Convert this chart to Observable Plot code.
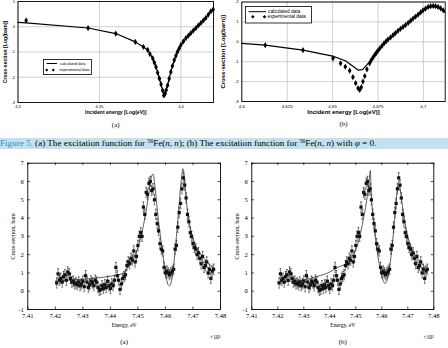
<!DOCTYPE html>
<html>
<head>
<meta charset="utf-8">
<script src="https://cdn.jsdelivr.net/npm/d3@7"></script>
<script src="https://cdn.jsdelivr.net/npm/@observablehq/plot@0.6"></script>
<style>
  html, body { margin: 0; padding: 0; background: #fff; }
  #fig { position: relative; width: 448px; height: 348px; overflow: hidden; background: #fff; }
  .panel { position: absolute; }
  .panel svg { overflow: visible; }
  .legend { position: absolute; overflow: visible; }
  .legend text { font-family: "Liberation Sans", Arial, sans-serif; fill: #000; }
  #caption { position: absolute; left: 0; top: 138px; width: 448px; height: 11px; background: #c3e2ee;
             font: 9.1px "Liberation Serif", "Times New Roman", serif; line-height: 11px; white-space: nowrap; }
  #caption .lead { color: #2a8ccf; }
  #caption sup { font-size: 5.8px; vertical-align: 3px; line-height: 0; }
</style>
</head>
<body>
<div id="fig">
  <div class="panel" id="pA" style="left:0;top:0"></div>
  <div class="panel" id="pB" style="left:224px;top:0"></div>
  <div class="panel" id="pC" style="left:0;top:160px"></div>
  <div class="panel" id="pD" style="left:224px;top:160px"></div>

  <svg class="legend" style="left:43px;top:59px" width="49" height="16">
    <rect x="0.5" y="0.5" width="48" height="15" fill="#fff" stroke="#000" stroke-width="0.8"/>
    <line x1="3.5" x2="14" y1="4.5" y2="4.5" stroke="#000" stroke-width="1"/>
    <text x="17" y="5.9" font-size="3.8">calculated data</text>
    <path d="M3.7,9.4L5.3,11L3.7,12.6L2.1,11Z M10.3,9.4L11.9,11L10.3,12.6L8.7,11Z" fill="#000"/>
    <text x="16.5" y="12.3" font-size="3.8">experimental data</text>
  </svg>

  <svg class="legend" style="left:244.5px;top:6px" width="67" height="17">
    <rect x="0.5" y="0.5" width="66" height="16.5" fill="#fff" stroke="#000" stroke-width="0.8"/>
    <line x1="3.5" x2="21" y1="5.7" y2="5.7" stroke="#000" stroke-width="1"/>
    <text x="23" y="7.3" font-size="4.8">calculated data</text>
    <path d="M7.8,8.9L9.6,10.7L7.8,12.5L6,10.7Z M19.5,8.9L21.3,10.7L19.5,12.5L17.7,10.7Z" fill="#000"/>
    <text x="22.5" y="12.4" font-size="4.8">experimental data</text>
  </svg>

  <div id="caption"><span class="lead">Figure 5.</span> (a) The excitation function for <sup>56</sup>Fe(<i>n</i>, <i>n</i>); (b) The excitation function for <sup>56</sup>Fe(<i>n</i>, <i>n</i>) with <i>φ</i> = 0.</div>
</div>

<script>
// ---- (a) top: excitation function, log scale ----
const aExpE  = [4.305, 4.343, 4.360, 4.372, 4.377, 4.3796, 4.381, 4.3827, 4.3837, 4.3847, 4.3857, 4.3868, 4.3878, 4.3888, 4.3895, 4.3903, 4.391, 4.3918, 4.3928, 4.3938, 4.3948, 4.3959, 4.3969, 4.3979, 4.399, 4.400, 4.4015, 4.4031, 4.4046, 4.4061, 4.4076, 4.4092, 4.4107, 4.4123, 4.4138, 4.4153, 4.4168, 4.4184, 4.4198];
const aExpS  = [0.25, -0.05, -0.27, -0.6, -0.8, -0.92, -1.08, -1.25, -1.42, -1.59, -1.82, -2.05, -2.28, -2.52, -2.72, -2.65, -2.5, -2.32, -2.05, -1.79, -1.55, -1.32, -1.15, -0.99, -0.85, -0.72, -0.58, -0.45, -0.35, -0.25, -0.15, -0.05, 0.05, 0.15, 0.25, 0.35, 0.48, 0.61, 0.68];
const aCalcE = [4.3, 4.305, 4.343, 4.36, 4.372, 4.377, 4.3796, 4.3827, 4.3847, 4.3868, 4.3888, 4.3897, 4.3903, 4.3918, 4.3938, 4.3959, 4.3979, 4.400, 4.4031, 4.4061, 4.4092, 4.4123, 4.4153, 4.4184, 4.42];
const aCalcS = [0.17, 0.15, -0.05, -0.27, -0.6, -0.8, -0.92, -1.25, -1.59, -2.05, -2.52, -2.7, -2.6, -2.32, -1.79, -1.32, -0.99, -0.72, -0.45, -0.25, -0.05, 0.15, 0.35, 0.61, 0.7];
const aTicksX = [4.3, 4.35, 4.4];
const aTicksY = [-3, -2, -1, 0, 1];

// ---- (b) top: excitation function with phi = 0 ----
const bExpE  = [4.6129, 4.6337, 4.6502, 4.6544, 4.657, 4.6594, 4.6612, 4.6627, 4.664, 4.6649, 4.6658, 4.6667, 4.6677, 4.6689, 4.6704, 4.6713, 4.6723, 4.6732, 4.6741, 4.675, 4.676, 4.6772, 4.6783, 4.6794, 4.6805, 4.6819, 4.6833, 4.6846, 4.686, 4.6874, 4.6888, 4.6902, 4.6916, 4.693, 4.6943, 4.6957, 4.6971, 4.6985, 4.6998, 4.7012, 4.7026, 4.704, 4.7054, 4.7067, 4.7081, 4.7095, 4.7109];
const bExpS  = [-0.17, -0.42, -0.83, -1.08, -1.25, -1.45, -1.78, -2.08, -2.33, -2.42, -2.28, -2.0, -1.72, -1.38, -1.08, -0.92, -0.78, -0.66, -0.55, -0.44, -0.33, -0.2, -0.08, 0.02, 0.12, 0.22, 0.33, 0.44, 0.55, 0.65, 0.75, 0.85, 0.95, 1.06, 1.17, 1.27, 1.37, 1.48, 1.58, 1.67, 1.75, 1.79, 1.8, 1.79, 1.75, 1.68, 1.58];
const bCalcE = [4.6, 4.6129, 4.6337, 4.65, 4.657, 4.661, 4.664, 4.6665, 4.669, 4.6723, 4.6741, 4.676, 4.6783, 4.6805, 4.6833, 4.686, 4.6888, 4.6916, 4.6943, 4.6971, 4.6998, 4.7026, 4.7054, 4.7081, 4.7109, 4.712];
const bCalcS = [-0.08, -0.17, -0.42, -0.72, -0.95, -1.22, -1.42, -1.4, -1.15, -0.8, -0.57, -0.35, -0.1, 0.1, 0.32, 0.55, 0.75, 0.95, 1.17, 1.37, 1.57, 1.73, 1.78, 1.73, 1.57, 1.48];
const bTicksX = [4.6, 4.625, 4.65, 4.675, 4.7];
const bTicksY = [-3, -2, -1, 0, 1, 2];

// ---- bottom: measured cross-section (×10³ eV) with error bars ----
const mE = [7.4205, 7.421, 7.4215, 7.422, 7.4225, 7.423, 7.4235, 7.424, 7.4245, 7.425, 7.4255, 7.426, 7.4265, 7.427, 7.4275, 7.428, 7.4285, 7.429, 7.4295, 7.43,
            7.4305, 7.431, 7.4315, 7.432, 7.4325, 7.433, 7.4335, 7.434, 7.4345, 7.435, 7.4355, 7.436, 7.4365, 7.437, 7.4375, 7.438, 7.4385, 7.439, 7.4395, 7.44,
            7.4405, 7.441, 7.4415, 7.442, 7.4425, 7.443, 7.4435, 7.444, 7.4445, 7.445, 7.4455, 7.446, 7.4465, 7.447, 7.4475, 7.448, 7.4485, 7.449, 7.4495, 7.45,
            7.4505, 7.451, 7.4515, 7.452, 7.4525, 7.453, 7.4535, 7.454, 7.4545, 7.455, 7.4555, 7.456, 7.4565, 7.457, 7.4575, 7.458, 7.4585, 7.459, 7.4595, 7.46,
            7.4605, 7.461, 7.4615, 7.462, 7.4625, 7.463, 7.4635, 7.464, 7.4645, 7.465, 7.4655, 7.466, 7.4665, 7.467, 7.4675, 7.468, 7.4685, 7.469, 7.4695, 7.47,
            7.4705, 7.471, 7.4715, 7.472, 7.4725, 7.473, 7.4735, 7.474, 7.4745, 7.475, 7.4755, 7.476, 7.4765, 7.477, 7.4775];
const mS = [0.45, 0.95, 0.6, 0.7, 0.5, 0.8, 0.9, 0.6, 1.05, 0.95, 0.7, 0.5, 0.55, 0.4, 0.45, 0.35, 0.5, 0.3, 0.4, 0.55,
            0.25, 0.85, 0.5, 0.2, 0.35, 0.55, 0.45, 0.3, 0.6, 0.5, 0.2, 0.05, 0.1, 0.3, 0.15, 0.35, 0.2, 0.55, 0.3, 0.15,
            0.4, 0.3, 0.6, 1.3, 0.85, 0.6, 0.1, 0.4, 0.7, 0.8, 0.9, 1.4, 1.6, 1.5, 1.8, 1.7, 2.2, 1.6, 1.9, 2.5,
            3.0, 3.2, 3.0, 4.6, 4.2, 5.4, 5.3, 5.9, 6.0, 5.5, 5.6, 5.0, 4.2, 3.7, 3.3, 2.6, 2.3, 2.2, 1.3, 1.0,
            1.1, 1.0, 0.9, 1.0, 1.1, 1.2, 2.3, 2.5, 3.5, 4.3, 4.8, 5.6, 6.2, 5.8, 5.1, 4.2, 3.8, 3.2, 3.0, 2.6,
            2.4, 2.3, 2.0, 2.1, 1.8, 1.5, 1.9, 1.3, 1.4, 1.6, 1.0, 1.2, 0.7, 1.1, 1.2];
const mErr = 0.28;

// fitted curves for the two bottom panels
const cAE = [7.42, 7.425, 7.43, 7.435, 7.44, 7.443, 7.445, 7.446, 7.447, 7.448, 7.449, 7.45, 7.451, 7.452, 7.453, 7.454, 7.4548, 7.4555, 7.456, 7.4565, 7.457, 7.458, 7.459, 7.4595, 7.46, 7.4605, 7.461, 7.4615, 7.462, 7.4625, 7.463, 7.4635, 7.464, 7.4645, 7.465, 7.4655, 7.466, 7.4663, 7.4667, 7.467, 7.4675, 7.468, 7.469, 7.47, 7.471, 7.472, 7.474, 7.476, 7.478];
const cAS = [0.55, 0.6, 0.65, 0.72, 0.82, 0.9, 1.0, 1.25, 1.5, 1.75, 2.0, 2.4, 2.9, 3.6, 4.4, 5.4, 6.2, 6.4, 6.0, 5.3, 4.5, 3.2, 2.1, 1.5, 1.0, 0.6, 0.35, 0.3, 0.45, 0.8, 1.4, 2.2, 3.0, 3.9, 4.8, 5.7, 6.4, 6.7, 6.5, 6.0, 5.1, 4.4, 3.5, 2.9, 2.5, 2.2, 1.8, 1.45, 1.15];
const cBE = [7.42, 7.425, 7.43, 7.435, 7.44, 7.443, 7.446, 7.448, 7.45, 7.451, 7.452, 7.453, 7.454, 7.4548, 7.4553, 7.4556, 7.4558, 7.456, 7.4565, 7.457, 7.458, 7.459, 7.46, 7.4605, 7.461, 7.4615, 7.462, 7.463, 7.464, 7.465, 7.4655, 7.466, 7.4665, 7.467, 7.468, 7.469, 7.47, 7.472, 7.474, 7.476, 7.478];
const cBS = [0.5, 0.55, 0.62, 0.8, 1.05, 1.3, 1.5, 1.8, 2.3, 2.7, 3.3, 4.0, 4.8, 5.6, 6.3, 6.6, 5.9, 5.2, 4.3, 3.6, 2.4, 1.5, 0.85, 0.6, 0.45, 0.45, 0.6, 1.3, 2.5, 4.0, 4.9, 5.6, 5.8, 5.6, 4.6, 3.7, 3.0, 2.2, 1.75, 1.4, 1.15];
const mTicksX = [7.41, 7.42, 7.43, 7.44, 7.45, 7.46, 7.47, 7.48];
const mTicksY = [-1, 0, 1, 2, 3, 4, 5, 6, 7];

const zip = (xs, ys) => xs.map((x, i) => ({x, y: ys[i]}));
const SANS = "'Liberation Sans', Arial, sans-serif";
const SERIF = "'Liberation Serif', 'Times New Roman', serif";
const comma = d => String(d).replace(".", ",");
const plain = d => String(d);

function logPanel({calc, exp, xDomain, yDomain, xTicks, yTicks, m, titleSize, tickSize, xTitleDy, yTitleDx, tag, tagDy}) {
  return Plot.plot({
    width: 224, height: 130,
    marginLeft: m[3], marginRight: m[1], marginTop: m[0], marginBottom: m[2],
    style: {fontFamily: SANS, fontSize: tickSize + "px", background: "transparent", color: "#000"},
    x: {domain: xDomain},
    y: {domain: yDomain},
    marks: [
      Plot.gridX(xTicks, {stroke: "#c4c4c4", strokeOpacity: 1, strokeWidth: 0.8}),
      Plot.gridY(yTicks, {stroke: "#c4c4c4", strokeOpacity: 1, strokeWidth: 0.8}),
      Plot.axisX({ticks: xTicks, tickSize: 0, tickPadding: 3, tickFormat: comma, label: null}),
      Plot.axisY({ticks: yTicks, tickSize: 0, tickPadding: 3, tickFormat: plain, label: null}),
      Plot.line(calc, {x: "x", y: "y", stroke: "#000", strokeWidth: 1.2}),
      Plot.dot(exp, {x: "x", y: "y", symbol: "diamond", r: 1.9, fill: "#000", stroke: "none"}),
      Plot.frame({stroke: "#000", strokeWidth: 0.9}),
      Plot.text(["Incident energy [Log(eV)]"], {text: d => d, frameAnchor: "bottom", dy: xTitleDy, fontWeight: "bold", fontSize: titleSize}),
      Plot.text(["Cross-section [Log(barn)]"], {text: d => d, frameAnchor: "left", textAnchor: "middle", dx: yTitleDx, rotate: -90, fontWeight: "bold", fontSize: titleSize}),
      Plot.text([tag], {text: d => d, frameAnchor: "bottom", dy: tagDy, fontFamily: SERIF, fontSize: 7})
    ]
  });
}

function barnPanel({calc, xDomain, m, tag}) {
  const W = 224, H = 188;
  const fw = W - m[1] - m[3], fh = H - m[0] - m[2];
  const meas = zip(mE, mS);
  const cap = {draw(ctx, size) { const r = Math.sqrt(size / Math.PI); ctx.moveTo(-r, 0); ctx.lineTo(r, 0); }};
  return Plot.plot({
    width: W, height: H,
    marginLeft: m[3], marginRight: m[1], marginTop: m[0], marginBottom: m[2],
    style: {fontFamily: SERIF, fontSize: "6.6px", background: "transparent", color: "#000"},
    x: {domain: xDomain},
    y: {domain: [-1, 7]},
    marks: [
      Plot.axisX({ticks: mTicksX, tickSize: 0, tickPadding: 3.5, tickFormat: d => d.toFixed(2), label: null}),
      Plot.axisY({ticks: mTicksY, tickSize: 0, tickPadding: 4, tickFormat: plain, label: null}),
      Plot.tickX(mTicksX, {x: d => d, insetTop: fh - 2.5, stroke: "#000", strokeWidth: 0.7}),
      Plot.tickX(mTicksX, {x: d => d, insetBottom: fh - 2.5, stroke: "#000", strokeWidth: 0.7}),
      Plot.tickY(mTicksY, {y: d => d, insetRight: fw - 2.5, stroke: "#000", strokeWidth: 0.7}),
      Plot.tickY(mTicksY, {y: d => d, insetLeft: fw - 2.5, stroke: "#000", strokeWidth: 0.7}),
      Plot.ruleX(meas, {x: "x", y1: d => d.y - mErr, y2: d => d.y + mErr, stroke: "#222", strokeWidth: 0.6}),
      Plot.dot(meas, {x: "x", y: d => d.y - mErr, symbol: cap, r: 0.9, stroke: "#222", strokeWidth: 0.6, fill: "none"}),
      Plot.dot(meas, {x: "x", y: d => d.y + mErr, symbol: cap, r: 0.9, stroke: "#222", strokeWidth: 0.6, fill: "none"}),
      Plot.line(calc, {x: "x", y: "y", stroke: "#333", strokeWidth: 0.8, curve: "monotone-x"}),
      Plot.dot(meas, {x: "x", y: "y", symbol: "square", r: 1.8, fill: "#111", stroke: "none"}),
      Plot.frame({stroke: "#000", strokeWidth: 0.9}),
      Plot.text(["Energy, eV"], {text: d => d, frameAnchor: "bottom", dy: 17, fontSize: 5.6}),
      Plot.text(["×10³"], {text: d => d, frameAnchor: "bottom-right", dy: 29, textAnchor: "end", fontSize: 5.6}),
      Plot.text(["Cross-section, barn"], {text: d => d, frameAnchor: "left", textAnchor: "middle", dx: -14.6, rotate: -90, fontSize: 6}),
      Plot.text([tag], {text: d => d, frameAnchor: "bottom", dy: 34, fontSize: 7})
    ]
  });
}

document.getElementById("pA").append(logPanel({
  calc: zip(aCalcE, aCalcS), exp: zip(aExpE, aExpS),
  xDomain: [4.3, 4.42], yDomain: [-3, 1], xTicks: aTicksX, yTicks: aTicksY,
  m: [1, 11, 28, 17.5], titleSize: 5.1, tickSize: 4, xTitleDy: 11, yTitleDx: -13, tag: "(a)", tagDy: 24
}));
document.getElementById("pB").append(logPanel({
  calc: zip(bCalcE, bCalcS), exp: zip(bExpE, bExpS),
  xDomain: [4.6, 4.712], yDomain: [-3, 2], xTicks: bTicksX, yTicks: bTicksY,
  m: [1.5, 3.3, 29, 17.3], titleSize: 6, tickSize: 4.4, xTitleDy: 12.3, yTitleDx: -19, tag: "(b)", tagDy: 24
}));
document.getElementById("pC").append(barnPanel({calc: zip(cAE, cAS), xDomain: [7.41, 7.48], m: [2.7, 4, 39, 27.3], tag: "(a)"}));
document.getElementById("pD").append(barnPanel({calc: zip(cBE, cBS), xDomain: [7.41, 7.48], m: [2.7, 14.7, 39, 27.3], tag: "(b)"}));
</script>
</body>
</html>
